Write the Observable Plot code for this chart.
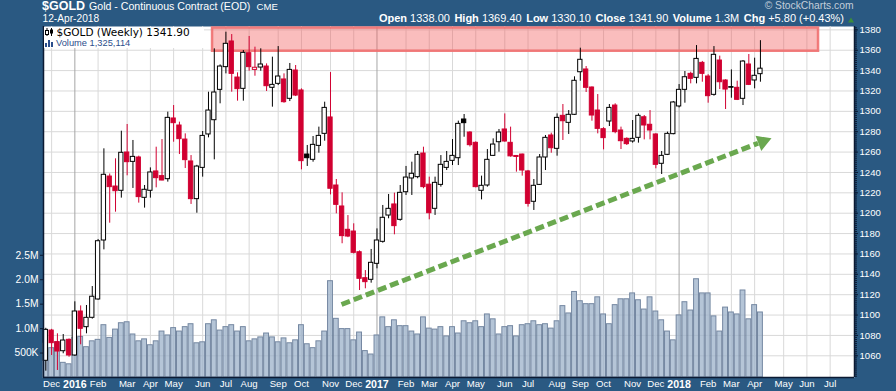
<!DOCTYPE html>
<html>
<head>
<meta charset="utf-8">
<script src="https://cdn.jsdelivr.net/npm/d3@7"></script>
<script src="https://cdn.jsdelivr.net/npm/@observablehq/plot@0.6"></script>
<style>
html,body{margin:0;padding:0;background:#2a5982;overflow:hidden;}
#wrap{position:relative;width:896px;height:391px;overflow:hidden;background:#2a5982;color:#fff;font-family:"Liberation Sans",Arial,sans-serif;}
#wrap svg.plot-layer{position:absolute;left:0;top:0;}
.h{position:absolute;white-space:nowrap;line-height:1;}
.g{margin-left:4.5px;}
</style>
</head>
<body>
<div id="wrap">
  <div class="h" style="left:42px;top:-0.3px;font-size:12.5px;font-weight:bold;">$GOLD</div>
  <div class="h" style="left:89px;top:0.6px;font-size:10.6px;">Gold - Continuous Contract (EOD)</div>
  <div class="h" style="left:256.5px;top:1.5px;font-size:9.6px;">CME</div>
  <div class="h" style="left:42.5px;top:13.7px;font-size:10.2px;">12-Apr-2018</div>
  <div class="h" style="right:52px;top:13.2px;font-size:11px;"><span><b>Open</b> 1338.00</span><span class="g"><b>High</b> 1369.40</span><span class="g"><b>Low</b> 1330.10</span><span class="g"><b>Close</b> 1341.90</span><span class="g"><b>Volume</b> 1.3M</span><span class="g"><b>Chg</b> +5.80 (+0.43%)</span></div>
  <svg class="h" style="left:847.5px;top:16.5px;" width="7" height="6"><polygon points="0,5.5 6,5.5 3,0.5" fill="#3c8c3c"/></svg>
  <div class="h" style="right:42.5px;top:1.1px;font-size:10.3px;color:#c3ceda;">© StockCharts.com</div>
</div>
<script>
// ---------- data (weekly bars, week ending Fri 4-Dec-2015 ... 13-Apr-2018) ----------
const opens = [1055.1,1084.8,1073.4,1064.5,1075.7,1060.3,1103.5,1088.1,1097.3,1115.3,
1173.2,1236.0,1226.2,1222.0,1259.6,1250.4,1254.7,1215.1,1222.0,1241.0,
1236.4,1233.4,1293.0,1286.1,1272.3,1250.8,1213.8,1244.5,1277.3,1291.3,
1321.1,1343.4,1368.6,1333.2,1322.1,1357.1,1340.7,1343.0,1344.0,1323.1,
1327.0,1331.3,1312.3,1340.1,1320.5,1257.6,1252.4,1266.1,1277.9,1294.0,
1227.2,1206.6,1183.7,1182.0,1161.7,1136.2,1134.6,1150.3,1171.9,1197.7,
1208.6,1193.5,1220.6,1234.1,1235.4,1258.6,1228.0,1204.3,1227.8,1244.5,
1251.4,1254.0,1292.0,1279.2,1269.1,1222.0,1227.2,1256.3,1269.7,1282.2,
1269.1,1256.2,1257.6,1241.0,1211.2,1227.8,1254.7,1276.3,1263.2,1295.6,
1288.7,1296.6,1338.4,1341.1,1323.4,1300.8,1282.5,1290.0,1305.7,1281.2,
1273.0,1270.4,1274.0,1294.2,1286.8,1277.3,1248.5,1257.3,1277.6,1304.8,
1321.1,1336.8,1332.9,1347.6,1334.2,1316.2,1349.9,1330.3,1323.8,1323.1,
1312.3,1346.0,1330.3,1336.5];
const highs = [1087.0,1086.0,1081.6,1080.9,1076.5,1113.0,1109.0,1109.4,1128.0,1174.2,
1263.2,1238.5,1253.4,1280.5,1287.1,1271.4,1256.0,1227.2,1244.5,1264.8,
1272.3,1299.2,1305.7,1289.4,1277.9,1256.6,1247.0,1280.2,1318.8,1361.4,
1345.6,1377.7,1375.4,1337.8,1359.7,1373.5,1363.0,1361.4,1346.6,1353.2,
1363.6,1336.8,1347.0,1345.0,1322.1,1266.5,1275.3,1284.5,1309.0,1338.1,
1233.1,1220.0,1197.7,1189.6,1163.0,1143.7,1164.4,1184.6,1207.6,1218.4,
1219.7,1227.2,1245.9,1250.1,1260.6,1264.8,1235.4,1235.4,1256.6,1260.6,
1272.3,1290.4,1296.9,1280.0,1270.0,1236.4,1262.5,1273.0,1282.2,1297.5,
1284.5,1256.5,1258.0,1242.0,1233.1,1257.6,1276.3,1278.6,1297.5,1306.7,
1300.8,1333.9,1362.0,1344.0,1324.0,1316.5,1284.0,1306.7,1307.4,1284.5,
1274.0,1291.0,1297.5,1295.9,1300.8,1278.0,1260.6,1279.6,1309.7,1326.3,
1339.1,1338.4,1364.6,1349.0,1336.0,1363.6,1354.2,1331.0,1340.7,1329.6,
1349.9,1355.8,1352.2,1369.4];
const lows = [1044.9,1060.3,1045.6,1062.0,1058.6,1059.5,1070.8,1081.6,1096.0,1114.6,
1164.0,1190.2,1201.0,1214.8,1236.7,1224.3,1209.9,1205.0,1214.8,1224.9,
1231.8,1230.5,1269.7,1257.6,1243.9,1208.6,1200.0,1235.4,1274.0,1252.4,
1307.4,1336.8,1318.8,1310.0,1310.0,1339.4,1334.5,1339.4,1319.5,1304.1,
1325.3,1308.0,1309.6,1314.5,1242.6,1245.9,1250.1,1258.9,1270.7,1218.0,
1199.4,1170.0,1176.0,1160.0,1124.1,1125.8,1131.3,1145.4,1170.6,1194.5,
1178.8,1192.2,1217.4,1217.4,1233.8,1224.0,1193.5,1197.8,1225.6,1241.9,
1246.8,1246.8,1274.6,1265.0,1224.9,1213.1,1225.6,1255.7,1259.9,1269.7,
1255.0,1240.3,1236.4,1206.0,1202.7,1227.2,1241.9,1258.9,1256.0,1271.4,
1277.3,1295.9,1329.6,1318.5,1290.3,1277.9,1262.2,1285.1,1278.0,1262.5,
1266.5,1268.8,1268.8,1272.0,1272.0,1243.6,1238.0,1256.6,1277.0,1303.4,
1308.0,1327.0,1327.0,1328.6,1308.0,1314.9,1321.4,1301.8,1312.9,1310.6,
1305.7,1325.3,1322.1,1328.6];
const closes = [1085.5,1072.4,1064.2,1075.0,1060.3,1103.5,1086.5,1097.3,1118.0,1172.5,
1237.7,1225.6,1221.6,1259.3,1250.1,1255.3,1215.8,1223.0,1240.0,1234.4,
1232.1,1293.6,1288.4,1272.7,1252.1,1213.8,1245.8,1275.9,1300.8,1318.5,
1344.0,1366.3,1336.8,1321.8,1357.4,1343.4,1342.8,1346.0,1324.7,1326.0,
1334.2,1309.0,1340.7,1315.5,1251.1,1254.0,1267.1,1275.9,1303.4,1224.0,
1208.2,1177.5,1177.1,1161.1,1135.6,1132.3,1151.3,1173.2,1195.5,1204.3,
1187.3,1220.0,1235.0,1238.7,1257.3,1225.6,1200.0,1229.8,1247.5,1250.4,
1256.3,1287.7,1288.4,1266.8,1225.6,1226.9,1252.4,1267.4,1279.2,1270.4,
1255.8,1255.2,1241.9,1209.2,1226.9,1254.7,1274.0,1263.8,1293.6,1290.3,
1296.6,1330.0,1350.6,1323.1,1295.9,1282.8,1273.7,1303.4,1279.6,1270.7,
1267.8,1273.0,1295.6,1286.1,1281.2,1247.5,1256.3,1277.9,1308.7,1321.1,
1333.5,1331.9,1351.5,1336.8,1314.9,1355.5,1328.6,1321.4,1323.2,1311.3,
1348.9,1326.0,1334.9,1341.9];
// weekly volume, millions of contracts
const volumesM = [0.69,0.60,0.72,0.30,0.27,0.81,0.83,0.62,0.74,0.77,
1.07,0.81,0.98,1.11,1.13,0.88,0.74,0.78,0.66,0.74,
0.94,0.86,1.01,0.94,1.03,1.09,0.70,0.72,1.09,1.17,
0.96,1.03,1.07,0.94,1.03,0.74,0.78,0.82,0.90,0.82,
0.72,0.80,0.70,0.76,1.07,0.68,0.60,0.74,0.94,1.97,
1.20,0.99,0.99,0.76,0.92,0.54,0.47,0.86,1.23,1.03,
1.17,1.05,1.05,0.94,0.88,1.23,1.00,0.98,1.03,0.84,
1.03,0.90,1.15,1.11,1.15,1.03,1.29,1.19,0.88,1.03,
1.05,0.84,1.07,1.09,1.15,1.07,1.09,1.00,1.15,1.46,
1.31,1.75,1.56,1.50,1.50,1.64,1.29,1.09,1.48,1.60,
1.60,1.72,1.58,1.39,1.64,1.35,1.17,0.94,0.76,1.27,
1.54,1.37,2.01,1.72,1.72,1.25,0.94,1.43,1.33,1.29,
1.78,1.19,1.48,1.33];

// month ticks: bar index of first week of each month, with labels
const monthTickIdx = [1,5,9,14,18,22,27,31,35,40,44,49,53,57,62,66,70,74,79,83,88,92,96,101,105,109,114,118,122,127,131,135];
const monthTickLabels = ["Dec","2016","Feb","Mar","Apr","May","Jun","Jul","Aug","Sep","Oct","Nov","Dec","2017","Feb","Mar","Apr","May","Jun","Jul","Aug","Sep","Oct","Nov","Dec","2018","Feb","Mar","Apr","May","Jun","Jul"];
const priceTicks = [1060,1080,1100,1120,1140,1160,1180,1200,1220,1240,1260,1280,1300,1320,1340,1360,1380];
const priceTickLabels = ["1060","1080","1100","1120","1140","1160","1180","1200","1220","1240","1260","1280","1300","1320","1340","1360","1380"];
const volTicks = [0.5,1.0,1.5,2.0,2.5];
const volTickLabels = ["500K","1.0M","1.5M","2.0M","2.5M"];

// annotations (in bar-index / price units)
const zoneIdx = [28.7, 133.0];
const zonePrice = [1359.0, 1381.8];
const trendStart = [50.9, 1110.4];
const trendEnd = [122.6, 1268.7];
const trendHead = [123.4, 1270.2];

// ---------- build ----------
const bars = opens.map((o, i) => {
  const c = closes[i];
  const prev = i > 0 ? closes[i - 1] : -Infinity;
  const col = c >= prev ? "#000000" : "#d10031";
  return {i, o, h: highs[i], l: lows[i], c, v: volumesM[i], col, hollow: c >= o};
});
const lab = new Map(monthTickIdx.map((d, k) => [d, monthTickLabels[k]]));
const yearIdx = monthTickIdx.filter(d => /^\d{4}$/.test(lab.get(d)));
const monthIdx = monthTickIdx.filter(d => !/^\d{4}$/.test(lab.get(d)));
const volLab = new Map(volTicks.map((d, k) => [d, volTickLabels[k]]));
const priceLab = new Map(priceTicks.map((d, k) => [d, priceTickLabels[k]]));
const minorTicks = d3.range(1040, 1384, 2);

const xDomain = [-0.396, 139.19];
const yPrice = [1038.7, 1383.3];
const base = {
  width: 896, height: 391, marginLeft: 43, marginRight: 42, marginTop: 26, marginBottom: 14,
  style: {background: "transparent", fontFamily: "'Liberation Sans', Arial, sans-serif", fontSize: "9.6px", overflow: "visible"}
};
const navy = "#0b1a33";

const gridLayer = Plot.plot({
  ...base,
  x: {type: "linear", domain: xDomain, axis: null},
  y: {domain: yPrice, axis: null},
  marks: [
    Plot.frame({fill: "white", stroke: "none"}),
    Plot.gridY(priceTicks, {stroke: "#d9d9d9", strokeOpacity: 1}),
    Plot.gridX(monthIdx, {stroke: "#d9d9d9", strokeOpacity: 1}),
    Plot.gridX(yearIdx, {stroke: "#a6a6a6", strokeOpacity: 1})
  ]
});

const volLayer = Plot.plot({
  ...base,
  x: {type: "linear", domain: xDomain, axis: null},
  y: {domain: [0, 7.18], axis: null},
  marks: [
    Plot.rect(bars, {x1: d => d.i - 0.42, x2: d => d.i + 0.42, y1: 0, y2: "v",
      fill: "#9cb1c9", fillOpacity: 0.75, stroke: "#7487a1", strokeWidth: 1}),
    Plot.axisY(volTicks, {anchor: "left", tickSize: 3, tickPadding: 2, tickFormat: d => volLab.get(d),
      fill: "white", stroke: navy, fontSize: 10.3, label: null})
  ]
});

const priceLayer = Plot.plot({
  ...base,
  x: {type: "linear", domain: xDomain, axis: null},
  y: {domain: yPrice, axis: null},
  color: {type: "identity"},
  marks: [
    Plot.rect([0], {x1: () => zoneIdx[0], x2: () => zoneIdx[1], y1: () => zonePrice[0], y2: () => zonePrice[1],
      fill: "#f25a5a", fillOpacity: 0.4, stroke: "#ef7070", strokeWidth: 2.5, strokeOpacity: 0.9}),
    Plot.ruleX(bars, {x: "i", y1: "l", y2: "h", stroke: "col", strokeWidth: 1}),
    Plot.rect(bars, {x1: d => d.i - 0.37, x2: d => d.i + 0.37,
      y1: d => Math.min(d.o, d.c), y2: d => Math.max(d.o, d.c),
      fill: d => d.hollow ? "#ffffff" : d.col, stroke: "col", strokeWidth: 1}),
    Plot.link([0], {x1: () => trendStart[0], y1: () => trendStart[1], x2: () => trendEnd[0], y2: () => trendEnd[1],
      stroke: "#6aa84f", strokeWidth: 5, strokeDasharray: "9,4"}),
    Plot.dot([0], {x: () => trendHead[0], y: () => trendHead[1], symbol: "triangle", r: 6, rotate: 69,
      fill: "#6aa84f", stroke: "none"}),
    Plot.ruleX([xDomain[0]], {stroke: navy, strokeWidth: 1.5}),
    Plot.ruleX([xDomain[1]], {stroke: navy, strokeWidth: 1.5}),
    Plot.ruleY([yPrice[0]], {stroke: navy, strokeWidth: 1.5}),
    Plot.axisY(minorTicks, {anchor: "right", tickSize: 2, tickFormat: () => "", fill: "none", stroke: navy, label: null}),
    Plot.axisY(priceTicks, {anchor: "right", tickSize: 3, tickPadding: 2, tickFormat: d => priceLab.get(d),
      fill: "white", stroke: navy, fontSize: 9.6, label: null}),
    Plot.axisX(monthIdx, {anchor: "bottom", tickSize: 0, tickPadding: 3, tickFormat: d => lab.get(d),
      fill: "white", fontSize: 9.6, label: null}),
    Plot.axisX(yearIdx, {anchor: "bottom", tickSize: 0, tickPadding: 3, tickFormat: d => lab.get(d),
      fill: "white", fontSize: 10.6, fontWeight: "bold", label: null})
  ]
});

const wrap = document.getElementById("wrap");
for (const svg of [gridLayer, volLayer, priceLayer]) {
  svg.classList.add("plot-layer");
  wrap.appendChild(svg);
}

// legend box (top-left of the plot area)
const legend = document.createElement("div");
legend.className = "h";
legend.style.cssText = "left:44px;top:26.5px;width:160px;height:21px;background:#fff;";
wrap.appendChild(legend);
const legendHTML = `
<svg class="h" style="left:45px;top:28px;" width="9" height="8">
  <line x1="2" y1="0" x2="2" y2="8" stroke="#000"/><rect x="0.5" y="2.5" width="3" height="4" fill="#fff" stroke="#000"/>
  <line x1="6.5" y1="0" x2="6.5" y2="8" stroke="#000"/><rect x="5" y="1.5" width="3" height="4" fill="#000"/>
</svg>
<div class="h" style="left:56.5px;top:27px;font-family:'DejaVu Sans',Verdana,sans-serif;font-size:10.5px;color:#000;">$GOLD (Weekly) 1341.90</div>
<svg class="h" style="left:45px;top:38.5px;" width="9" height="8">
  <rect x="0" y="4" width="2" height="4" fill="#2b4e8c"/><rect x="3" y="1" width="2" height="7" fill="#2b4e8c"/><rect x="6" y="3" width="2" height="5" fill="#2b4e8c"/>
</svg>
<div class="h" style="left:56px;top:38.6px;font-size:9.3px;color:#2b4e8c;">Volume 1,325,114</div>`;
wrap.insertAdjacentHTML("beforeend", legendHTML);
</script>
</body>
</html>
